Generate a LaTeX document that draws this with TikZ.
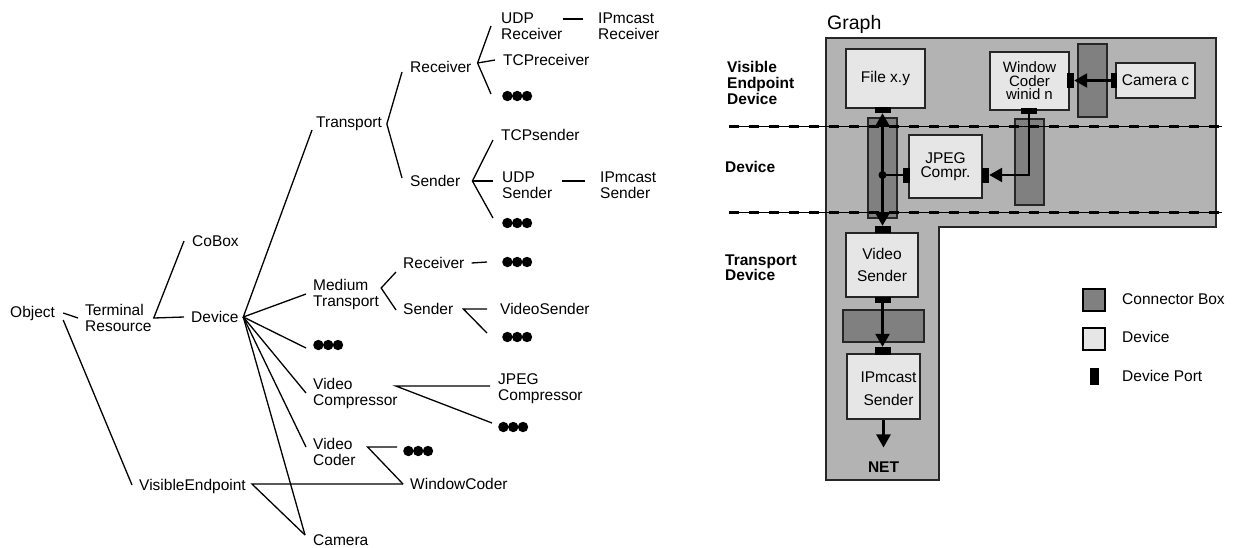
\documentclass[tikz,border=0pt]{standalone}
\usepackage{fontspec}
\setmainfont{Liberation Sans}
\usetikzlibrary{arrows.meta,calc}
\definecolor{lgray}{HTML}{B3B3B3}
\definecolor{cgray}{HTML}{808080}
\definecolor{dgray}{HTML}{E6E6E6}
\definecolor{edgec}{HTML}{262626}
\begin{document}
\begin{tikzpicture}[x=1pt,y=-1pt,
  lbl/.style={font=\fontsize{15.5}{16}\selectfont, inner sep=0pt, anchor=west, align=left},
  blbl/.style={lbl, font=\bfseries\fontsize{15.5}{16}\selectfont},
  tdots/.style={minimum width=30pt, minimum height=12pt, inner sep=0pt, anchor=west,
    path picture={\foreach \dx in {5.2,15,24.8}{\fill[black] ([xshift=\dx pt]path picture bounding box.west) circle (5.2pt);}}},
  tl/.style={line width=1.3pt},
  devbox/.style={draw=edgec, line width=1.5pt, fill=dgray, inner sep=0pt, align=center},
  conbox/.style={draw=edgec, line width=1.2pt, fill=cgray, inner sep=0pt},
  port/.style={fill=black, inner sep=0pt},
  arr/.style={line width=2.5pt, -{Triangle[length=13pt,width=14pt]}},
  darr/.style={line width=2.5pt, {Triangle[length=13pt,width=14pt]}-{Triangle[length=13pt,width=14pt]}}
]
\useasboundingbox (0,0) rectangle (1233,547);

% ---------------- left tree ----------------
\node[lbl] (obj) at (10,313) {Object};
\node[lbl] (term) at (85,318) {Terminal\\Resource};
\node[lbl] (cobox) at (192,241) {CoBox};
\node[lbl] (dev) at (191,317) {Device};
\node[lbl] (transp) at (316,124) {Transport};
\node[lbl] (rcv) at (410,67) {Receiver};
\node[lbl] (udpr) at (501,26) {UDP\\Receiver};
\node[lbl] (ipr) at (598,26) {IPmcast\\Receiver};
\node[lbl] (tcpr) at (503,60) {TCPreceiver};
\node[tdots] (dotsr) at (502,96) {};
\node[lbl] (snd) at (410,181) {Sender};
\node[lbl] (tcps) at (501,135) {TCPsender};
\node[lbl] (udps) at (502,185) {UDP\\Sender};
\node[lbl] (ips) at (600,185) {IPmcast\\Sender};
\node[tdots] (dotss) at (502,223) {};
\node[lbl] (medium) at (313,294) {Medium\\Transport};
\node[lbl] (mrcv) at (403,263) {Receiver};
\node[tdots] (mdots) at (502,262) {};
\node[lbl] (msnd) at (403,309) {Sender};
\node[lbl] (vsnd) at (500,309) {VideoSender};
\node[tdots] (vdots) at (502,337) {};
\node[tdots] (ddots) at (313,345) {};
\node[lbl] (vcomp) at (313,393) {Video\\Compressor};
\node[lbl] (jpeg) at (498,389) {JPEG\\Compressor};
\node[tdots] (jdots) at (498,427) {};
\node[lbl] (vcoder) at (313,452) {Video\\Coder};
\node[tdots] (cdots) at (403,451) {};
\node[lbl] (wcoder) at (410,484) {WindowCoder};
\node[lbl] (ve) at (139,486) {VisibleEndpoint};
\node[lbl] (camera) at (313,540) {Camera};

\draw[tl] ([xshift=8pt]obj.east) -- ([xshift=-7pt]term.west);
\draw[tl] ([xshift=8pt,yshift=-7pt]obj.east) -- ([xshift=-7pt,yshift=1pt]ve.west);
\draw[tl] ([xshift=-8pt]cobox.west) -- ([xshift=2pt]term.east) -- ([xshift=-7pt]dev.west);
\draw[tl] ([xshift=-4pt,yshift=-6pt]transp.west) -- ([xshift=4.5pt]dev.east) -- ([xshift=-7pt]medium.west);
\draw[tl] ([xshift=4.5pt]dev.east) -- ([xshift=-7pt,yshift=-3pt]ddots.west);
\draw[tl] ([xshift=4.5pt]dev.east) -- ([xshift=-7pt]vcomp.west);
\draw[tl] ([xshift=4.5pt]dev.east) -- ([xshift=-7pt,yshift=5pt]vcoder.west);
\draw[tl] ([xshift=4.5pt]dev.east) -- ([xshift=-8pt,yshift=5pt]camera.west);
\draw[tl] ([xshift=-8pt,yshift=-5pt]rcv.west) -- ([xshift=4.7pt]transp.east) -- ([xshift=-8pt,yshift=3pt]snd.west);
\draw[tl] ([xshift=-10pt]udpr.west) -- ([xshift=6pt,yshift=4pt]rcv.east) -- ([xshift=-11pt,yshift=2pt]dotsr.west);
\draw[tl] ([xshift=6pt,yshift=4pt]rcv.east) -- ([xshift=-8pt]tcpr.west);
\draw[tl] ([yshift=7pt]udpr.east) -- ([xshift=-15pt,yshift=7pt]ipr.west);
\draw[tl] ([xshift=-8pt,yshift=-5pt]tcps.west) -- ([xshift=12pt]snd.east) -- ([xshift=-9pt,yshift=5pt]dotss.west);
\draw[tl] ([xshift=12pt]snd.east) -- ([xshift=-9pt,yshift=4pt]udps.west);
\draw[tl] ([xshift=10pt,yshift=4pt]udps.east) -- ([xshift=-15pt,yshift=4pt]ips.west);
\draw[tl] ([xshift=-7pt,yshift=-9pt]mrcv.west) -- ([xshift=2pt,yshift=6pt]medium.east) -- ([xshift=-7pt,yshift=-1pt]msnd.west);
\draw[tl] ([xshift=7pt]mrcv.east) -- ([xshift=-15pt]mdots.west);
\draw[tl] ([xshift=-13pt]vsnd.west) -- ([xshift=10pt]msnd.east) -- ([xshift=-15pt,yshift=4pt]vdots.west);
\draw[tl] ([xshift=-8pt,yshift=3pt]jpeg.west) -- ([xshift=-2pt,yshift=7pt]vcomp.east) -- ([xshift=-6pt,yshift=4pt]jdots.west);
\draw[tl] ([xshift=-6pt,yshift=4pt]cdots.west) -- ([xshift=12pt,yshift=5pt]vcoder.east) -- ([xshift=-7pt]wcoder.west);
\draw[tl] ([xshift=-7pt]wcoder.west) -- ([xshift=6pt,yshift=2pt]ve.east) -- ([xshift=-8pt,yshift=5pt]camera.west);

% ---------------- right diagram ----------------
\node[lbl, font=\fontsize{19.5}{20}\selectfont] (graph) at (827,24) {Graph};
\draw[fill=lgray, draw=edgec, line width=1.5pt] (826,38) -- (1216,38) -- (1216,227) -- (939,227) -- (939,480) -- (826,480) -- cycle;

\node[conbox, minimum width=29pt, minimum height=100pt] (cb1) at (882.5,168) {};
\node[conbox, minimum width=29pt, minimum height=86pt] (cb2) at (1029.5,162) {};
\node[conbox, minimum width=29pt, minimum height=73pt] (cb3) at (1092.5,80.5) {};
\node[conbox, minimum width=81pt, minimum height=32pt] (cb4) at (883.5,326) {};

\draw[line width=0.8pt] (729,126) -- (1222,126);
\draw[line width=3pt, dash pattern=on 10pt off 10pt] (729,126) -- (1222,126);
\draw[line width=0.8pt] (729,212) -- (1222,212);
\draw[line width=3pt, dash pattern=on 10pt off 10pt] (729,212) -- (1222,212);

\node[blbl] (lvis) at (727,83) {Visible\\Endpoint\\Device};
\node[blbl] (ldev) at (725,167) {Device};
\node[blbl, font=\bfseries\fontsize{15.5}{12}\selectfont] (ltr) at (725,268) {Transport\\Device};

\node[devbox, font=\fontsize{15.5}{16}\selectfont, minimum width=79pt, minimum height=59pt] (file) at (885.5,78.5) {File x.y};
\node[devbox, font=\fontsize{15.5}{14}\selectfont, minimum width=73pt, minimum height=63pt] (jpegb) at (945.5,166.5) {JPEG\\Compr.};
\node[devbox, font=\fontsize{15}{13.5}\selectfont, minimum width=79pt, minimum height=58pt] (wc) at (1029.5,81) {Window\\Coder\\winid n};
\node[devbox, font=\fontsize{15.5}{16}\selectfont, minimum width=79pt, minimum height=35pt] (cam) at (1155.5,80.5) {Camera c};
\node[devbox, font=\fontsize{15.5}{22}\selectfont, minimum width=72pt, minimum height=64pt] (vs) at (882,265) {Video\\Sender};
\node[devbox, minimum width=73pt, minimum height=65pt,
  label={[font=\fontsize{15.5}{23}\selectfont, align=center, inner sep=0pt, xshift=5pt, yshift=-2pt]center:IPmcast\\Sender}] (ip) at (883.5,386.5) {};

\node[port, minimum width=16pt, minimum height=6pt] (fp) at (882.5,110) {};
\node[port, minimum width=7pt, minimum height=15pt] (jl) at (906.5,175) {};
\node[port, minimum width=7pt, minimum height=15pt] (jr) at (985.5,175) {};
\node[port, minimum width=7pt, minimum height=15pt] (wcr) at (1070.5,80.5) {};
\node[port, minimum width=16pt, minimum height=6pt] (wcb) at (1029,111) {};
\node[port, minimum width=6pt, minimum height=15pt] (camp) at (1114,80.5) {};
\node[port, minimum width=16pt, minimum height=7pt] (vstp) at (882.5,229.5) {};
\node[port, minimum width=16pt, minimum height=6pt] (vsbp) at (882.5,300) {};
\node[port, minimum width=16pt, minimum height=8pt] (iptp) at (882.5,351) {};

\node[font=\bfseries\fontsize{15.5}{16}\selectfont, inner sep=0pt] (net) at (883.5,467) {NET};

\draw[darr] (fp.south) -- (vstp.north);
\coordinate (junc) at (fp.south |- jl.west);
\draw[line width=2.5pt] (junc) -- (jl.west);
\fill (junc) circle (4pt);
\draw[arr] (wcb.south) -- (wcb.south |- jr.east) -- (jr.east);
\draw[arr] (camp.west) -- (wcr.east);
\draw[arr] (vsbp.south) -- (iptp.north);
\draw[arr] (ip.south) -- ([yshift=14pt]net.north);

% ---------------- legend ----------------
\node[draw=black, line width=2.5pt, fill=cgray, minimum size=22pt, inner sep=0pt] (lgc) at (1094,300) {};
\node[lbl] (lgct) at (1122,299) {Connector Box};
\node[draw=black, line width=2.5pt, fill=dgray, minimum size=22pt, inner sep=0pt] (lgd) at (1094,339) {};
\node[lbl] (lgdt) at (1122,337) {Device};
\node[port, minimum width=8.5pt, minimum height=17pt] (lgp) at (1094.5,376.5) {};
\node[lbl] (lgpt) at (1122,376) {Device Port};
\end{tikzpicture}
\end{document}
